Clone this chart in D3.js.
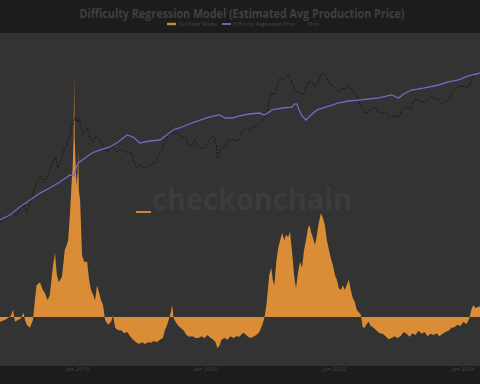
<!DOCTYPE html>
<html><head><meta charset="utf-8">
<script src="https://cdn.jsdelivr.net/npm/d3@7"></script>
<style>html,body{margin:0;padding:0;background:#1c1c1c;overflow:hidden}</style>
</head><body><svg id="c" width="480" height="384"></svg>
<script>
// ---------- data ----------
const titleText = "Difficulty Regression Model (Estimated Avg Production Price)";
const seriesNames = ["Oscillator Model", "Difficulty Regression Price", "Price"];
const tickDates = ["2018-01-01", "2020-01-01", "2022-01-01", "2024-01-01"];
const tickLabels = ["Jan 2018", "Jan 2020", "Jan 2022", "Jan 2024"];
const xDomain = ["2016-10-19", "2024-04-06"];

const oscDates = ["2016-10-19","2016-11-15","2016-12-01","2016-12-20","2017-01-01","2017-01-12","2017-01-29","2017-02-15","2017-03-01","2017-03-10","2017-03-20","2017-04-07","2017-04-24","2017-05-05","2017-05-15","2017-06-03","2017-06-19","2017-07-01","2017-07-17","2017-07-29","2017-08-15","2017-08-27","2017-09-07","2017-09-18","2017-10-06","2017-10-22","2017-11-02","2017-11-10","2017-11-20","2017-12-01","2017-12-05","2017-12-11","2017-12-14","2017-12-17","2017-12-22","2017-12-28","2018-01-03","2018-01-06","2018-01-10","2018-01-17","2018-01-28","2018-02-09","2018-02-26","2018-03-09","2018-03-20","2018-04-01","2018-04-12","2018-04-23","2018-05-05","2018-05-16","2018-05-27","2018-06-08","2018-06-25","2018-07-12","2018-07-23","2018-08-04","2018-08-21","2018-09-07","2018-09-24","2018-10-11","2018-10-28","2018-11-14","2018-12-01","2018-12-18","2019-01-03","2019-01-20","2019-02-06","2019-02-23","2019-03-12","2019-03-29","2019-04-15","2019-05-02","2019-05-13","2019-05-24","2019-06-04","2019-06-16","2019-06-24","2019-07-02","2019-07-13","2019-07-24","2019-08-10","2019-08-27","2019-09-13","2019-09-30","2019-10-17","2019-11-03","2019-11-20","2019-12-07","2019-12-24","2020-01-11","2020-01-28","2020-02-13","2020-02-25","2020-03-07","2020-03-18","2020-03-30","2020-04-16","2020-05-03","2020-05-20","2020-06-06","2020-06-23","2020-07-10","2020-07-27","2020-08-07","2020-08-24","2020-09-10","2020-09-27","2020-10-14","2020-10-31","2020-11-17","2020-11-28","2020-12-10","2020-12-18","2020-12-26","2021-01-07","2021-01-15","2021-01-24","2021-02-04","2021-02-15","2021-02-26","2021-03-10","2021-03-21","2021-04-01","2021-04-12","2021-04-23","2021-05-05","2021-05-16","2021-05-27","2021-06-08","2021-06-19","2021-06-30","2021-07-12","2021-07-23","2021-08-03","2021-08-12","2021-08-20","2021-08-31","2021-09-12","2021-09-23","2021-10-04","2021-10-16","2021-10-27","2021-11-07","2021-11-18","2021-11-30","2021-12-11","2021-12-22","2022-01-03","2022-01-14","2022-01-25","2022-02-06","2022-02-17","2022-02-28","2022-03-11","2022-03-23","2022-04-03","2022-04-14","2022-04-26","2022-05-07","2022-05-18","2022-05-29","2022-06-10","2022-06-21","2022-07-02","2022-07-14","2022-07-25","2022-08-11","2022-08-28","2022-09-14","2022-10-01","2022-10-18","2022-11-04","2022-11-21","2022-12-08","2022-12-25","2023-01-11","2023-01-28","2023-02-14","2023-03-03","2023-03-20","2023-04-06","2023-04-23","2023-05-10","2023-05-27","2023-06-13","2023-06-30","2023-07-17","2023-08-03","2023-08-20","2023-09-06","2023-09-23","2023-10-10","2023-10-27","2023-11-13","2023-11-30","2023-12-17","2024-01-03","2024-01-20","2024-02-06","2024-02-17","2024-02-28","2024-03-11","2024-04-06"];
const oscValues = [-0.08,-0.05,-0.02,0.02,0.12,-0.08,-0.05,-0.02,0.07,-0.05,-0.13,-0.18,-0.05,0.28,0.53,0.58,0.45,0.40,0.28,0.37,0.83,1.07,0.70,0.58,0.67,1.12,1.20,1.28,1.70,2.30,2.45,3.00,4.03,3.00,2.60,2.20,2.40,2.78,2.10,1.95,1.03,0.92,0.92,0.62,0.45,0.37,0.28,0.53,0.40,0.28,0.20,-0.05,-0.13,-0.08,0.03,-0.18,-0.22,-0.22,-0.27,-0.25,-0.32,-0.38,-0.42,-0.45,-0.42,-0.45,-0.42,-0.43,-0.40,-0.42,-0.38,-0.35,-0.22,-0.15,-0.05,0.08,0.20,-0.02,-0.08,-0.13,-0.18,-0.22,-0.30,-0.33,-0.32,-0.35,-0.35,-0.32,-0.35,-0.30,-0.35,-0.38,-0.42,-0.52,-0.48,-0.38,-0.35,-0.38,-0.32,-0.35,-0.32,-0.33,-0.27,-0.27,-0.32,-0.35,-0.33,-0.30,-0.25,-0.13,-0.02,0.20,0.45,0.70,0.82,0.62,0.53,0.92,1.15,1.28,1.40,1.28,1.37,1.33,1.42,1.08,0.70,0.48,0.75,0.92,0.82,1.12,1.28,1.48,1.53,1.42,1.32,1.20,1.37,1.58,1.73,1.65,1.53,1.28,1.12,0.98,0.87,0.70,0.62,0.48,0.45,0.53,0.45,0.53,0.62,0.45,0.32,0.25,0.12,0.08,0.05,-0.17,-0.18,-0.12,-0.08,-0.15,-0.18,-0.23,-0.27,-0.28,-0.32,-0.37,-0.35,-0.32,-0.35,-0.32,-0.25,-0.28,-0.33,-0.27,-0.30,-0.23,-0.28,-0.25,-0.32,-0.28,-0.30,-0.27,-0.32,-0.28,-0.25,-0.23,-0.18,-0.17,-0.13,-0.15,-0.08,-0.12,-0.02,0.12,0.20,0.15,0.18];

const priceDates = ["2016-10-19","2016-12-01","2017-01-01","2017-01-18","2017-02-08","2017-03-05","2017-03-20","2017-04-12","2017-05-05","2017-05-22","2017-06-09","2017-06-25","2017-07-12","2017-07-29","2017-08-15","2017-09-01","2017-09-12","2017-10-01","2017-10-17","2017-11-03","2017-11-20","2017-12-08","2017-12-20","2017-12-31","2018-01-11","2018-01-22","2018-02-03","2018-02-14","2018-02-26","2018-03-15","2018-04-01","2018-04-18","2018-05-05","2018-05-22","2018-06-08","2018-06-25","2018-07-12","2018-07-29","2018-08-15","2018-09-01","2018-09-18","2018-10-05","2018-10-22","2018-11-08","2018-11-19","2018-12-06","2018-12-23","2019-01-08","2019-01-25","2019-02-11","2019-02-28","2019-03-17","2019-04-03","2019-04-20","2019-05-07","2019-05-24","2019-06-10","2019-06-21","2019-07-02","2019-07-19","2019-08-05","2019-08-22","2019-09-08","2019-09-25","2019-10-12","2019-10-29","2019-11-15","2019-12-02","2019-12-19","2020-01-05","2020-01-22","2020-02-09","2020-02-25","2020-03-07","2020-03-18","2020-04-04","2020-04-21","2020-05-08","2020-05-25","2020-06-11","2020-06-28","2020-07-15","2020-08-01","2020-08-18","2020-09-04","2020-09-21","2020-10-08","2020-10-25","2020-11-11","2020-11-28","2020-12-16","2020-12-26","2021-01-07","2021-01-24","2021-02-10","2021-02-26","2021-03-15","2021-04-01","2021-04-12","2021-04-29","2021-05-16","2021-06-02","2021-06-19","2021-07-06","2021-07-23","2021-08-09","2021-08-26","2021-09-12","2021-09-29","2021-10-16","2021-11-02","2021-11-18","2021-12-05","2021-12-22","2022-01-08","2022-01-25","2022-02-11","2022-02-28","2022-03-17","2022-04-03","2022-04-20","2022-05-07","2022-05-24","2022-06-10","2022-06-27","2022-07-14","2022-07-31","2022-08-17","2022-09-03","2022-09-20","2022-10-07","2022-10-24","2022-11-10","2022-11-27","2022-12-14","2022-12-31","2023-01-17","2023-02-03","2023-02-20","2023-03-09","2023-03-26","2023-04-12","2023-04-29","2023-05-16","2023-06-02","2023-06-19","2023-07-06","2023-07-23","2023-08-09","2023-08-26","2023-09-12","2023-09-29","2023-10-16","2023-11-02","2023-11-19","2023-12-06","2023-12-23","2024-01-09","2024-01-26","2024-02-12","2024-02-28","2024-03-16","2024-04-06"];
const priceValues = [572,652,794,697,849,1000,794,1180,1750,2280,2600,2130,2430,3160,4110,4690,3380,4390,6110,7200,10000,15300,18100,15300,17500,12600,10000,11800,12600,9060,7940,9680,9060,7200,6110,5720,6970,6520,5720,6110,5910,5720,5720,5530,4110,3490,3730,3490,3380,3730,3850,3980,5010,5720,7200,9060,10700,13000,10000,11000,10000,9360,9060,7200,6970,8480,7200,6520,6520,7200,8480,9680,8480,4690,5720,6520,6970,8480,8480,8480,8210,9360,11800,12600,11800,12600,13000,14400,15300,17500,22800,31600,41100,37300,51800,65200,61100,67400,74300,61100,46900,41100,39800,37300,46900,57200,57200,48500,57200,71900,76900,67400,53500,51800,45400,41100,46900,43900,50100,46900,41100,36100,27700,22800,20600,21300,24300,25100,21300,20600,20600,21300,17500,18100,18700,18100,22800,24300,25100,22800,30600,32700,30600,29600,29600,33800,34900,32700,32700,28700,28700,29600,33800,41100,43900,50100,50100,50100,46900,55300,71900,79400,76900];

const regDates = ["2016-10-19","2016-12-15","2017-02-08","2017-04-07","2017-06-03","2017-07-29","2017-09-24","2017-11-20","2017-12-14","2017-12-25","2018-01-06","2018-02-14","2018-03-26","2018-05-10","2018-07-06","2018-08-21","2018-10-11","2018-11-14","2018-12-23","2019-02-17","2019-04-15","2019-05-24","2019-06-27","2019-08-05","2019-09-13","2019-10-29","2020-01-05","2020-02-19","2020-03-18","2020-04-21","2020-05-31","2020-07-10","2020-09-04","2020-10-31","2020-11-28","2021-01-12","2021-03-10","2021-05-05","2021-05-16","2021-06-02","2021-06-13","2021-06-30","2021-07-23","2021-08-20","2021-09-23","2021-11-30","2022-01-25","2022-03-23","2022-05-18","2022-07-14","2022-09-09","2022-11-21","2022-12-31","2023-01-28","2023-03-14","2023-05-21","2023-08-14","2023-10-10","2023-12-06","2024-01-31","2024-04-06"];
const regValues = [611,720,936,1180,1480,1750,2130,2680,2600,3380,3980,4690,5530,6110,6740,7940,10000,9360,7690,8210,8480,10000,11800,12600,13900,15300,17500,18700,19300,17500,17500,18700,19950,20600,19300,22800,24300,25100,27700,27700,22800,18700,16400,19300,22800,25900,28700,30600,31600,32700,33800,37300,33800,38500,43900,46900,51800,57200,61100,69700,76900];

// ---------- layout ----------
const W = 480, H = 384;
const plot = {left: 0, right: 480, top: 33, bottom: 366};
const parse = d3.utcParse("%Y-%m-%d");

const svg = d3.select("#c");
svg.append("rect").attr("width", W).attr("height", H).attr("fill", "#1c1c1c");
svg.append("rect").attr("x", plot.left).attr("y", plot.top)
  .attr("width", plot.right - plot.left).attr("height", plot.bottom - plot.top)
  .attr("fill", "#333333");

svg.append("defs").append("clipPath").attr("id", "clip")
  .append("rect").attr("x", plot.left).attr("y", plot.top)
  .attr("width", plot.right - plot.left).attr("height", plot.bottom - plot.top);

const x = d3.scaleUtc().domain(xDomain.map(parse)).range([plot.left, plot.right]);
const yPrice = d3.scaleLog().domain([Math.pow(10, 0.7), Math.pow(10, 0.7 + 333 / 70)]).range([plot.bottom, plot.top]);
const yOsc = d3.scaleLinear().domain([-49 / 60, 284 / 60]).range([plot.bottom, plot.top]);

// watermark
svg.append("text").attr("x", 152).attr("y", 210)
  .attr("font-family", "'Open Sans', 'DejaVu Sans', sans-serif").attr("font-weight", 700)
  .attr("font-size", 31).attr("textLength", 200).attr("lengthAdjust", "spacingAndGlyphs")
  .attr("fill", "#3c3c3c").text("checkonchain");
svg.append("line").attr("x1", 136).attr("x2", 151).attr("y1", 212).attr("y2", 212)
  .attr("stroke", "#cf8632").attr("stroke-width", 2);

const g = svg.append("g").attr("clip-path", "url(#clip)");

// oscillator area
const osc = oscDates.map((d, i) => ({d: parse(d), v: oscValues[i]}));
g.append("path").datum(osc)
  .attr("d", d3.area().x(p => x(p.d)).y0(yOsc(0)).y1(p => yOsc(p.v)))
  .attr("fill", "#da8d36");

// price
const price = priceDates.map((d, i) => ({d: parse(d), v: priceValues[i]}));
g.append("path").datum(price)
  .attr("d", d3.line().x(p => x(p.d)).y(p => yPrice(p.v)))
  .attr("fill", "none").attr("stroke", "#161616").attr("stroke-width", 1)
  .attr("stroke-dasharray", "2,1.5");

// regression
const reg = regDates.map((d, i) => ({d: parse(d), v: regValues[i]}));
g.append("path").datum(reg)
  .attr("d", d3.line().x(p => x(p.d)).y(p => yPrice(p.v)))
  .attr("fill", "none").attr("stroke", "#716ac6").attr("stroke-width", 1.3);

// x axis labels
const xa = svg.append("g");
tickDates.forEach((t, i) => {
  xa.append("text").attr("x", x(parse(t))).attr("y", 371)
    .attr("text-anchor", "middle").attr("font-family", "'Open Sans', sans-serif")
    .attr("font-size", 6).attr("fill", "#444444").text(tickLabels[i]);
});

// title
svg.append("text").attr("x", 242).attr("y", 18).attr("text-anchor", "middle")
  .attr("font-family", "'Open Sans', 'DejaVu Sans', sans-serif").attr("font-weight", 700)
  .attr("font-size", 12.5).attr("textLength", 325).attr("lengthAdjust", "spacingAndGlyphs")
  .attr("fill", "#404040").text(titleText);

// legend
const leg = svg.append("g").attr("font-family", "'Open Sans', sans-serif").attr("font-size", 4.4).attr("fill", "#474747");
leg.append("line").attr("x1", 167).attr("x2", 176).attr("y1", 24).attr("y2", 24).attr("stroke", "#cf8632").attr("stroke-width", 2.5);
leg.append("text").attr("x", 178).attr("y", 25.5).attr("textLength", 39).attr("lengthAdjust", "spacingAndGlyphs").text(seriesNames[0]);
leg.append("line").attr("x1", 222).attr("x2", 231).attr("y1", 24).attr("y2", 24).attr("stroke", "#6a64c0").attr("stroke-width", 2);
leg.append("text").attr("x", 233).attr("y", 25.5).attr("textLength", 62).attr("lengthAdjust", "spacingAndGlyphs").text(seriesNames[1]);
leg.append("line").attr("x1", 298).attr("x2", 306).attr("y1", 24).attr("y2", 24).attr("stroke", "#161616").attr("stroke-width", 1).attr("stroke-dasharray", "2,1.5");
leg.append("text").attr("x", 308).attr("y", 25.5).attr("textLength", 11).attr("lengthAdjust", "spacingAndGlyphs").text(seriesNames[2]);
</script>
</body></html>
